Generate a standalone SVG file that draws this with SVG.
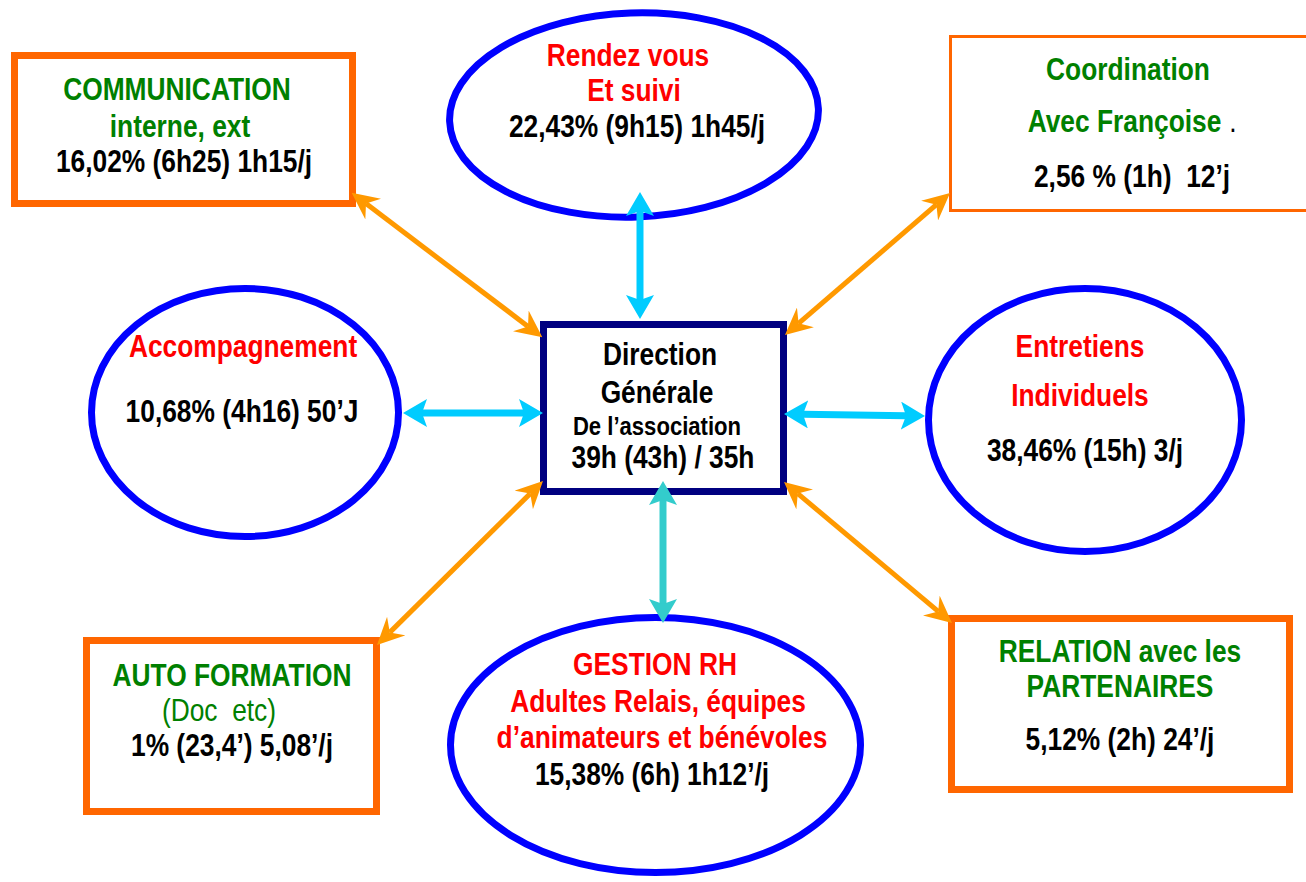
<svg xmlns="http://www.w3.org/2000/svg" width="1306" height="882" viewBox="0 0 1306 882">
  <style>
    /* condensed bold sans: each label squeezed about its own centre */
    text { font-family: "Liberation Sans", Arial, sans-serif; font-weight: bold; font-size: 31px; text-anchor: middle;
           transform-box: fill-box; transform-origin: center; transform: scaleX(0.85); }
    .green { fill: #008000; }
    .red { fill: #FF0000; }
    .black { fill: #000000; }
    .small { font-size: 26px; }
    .regular { font-weight: normal; }
    .oval { fill: #FFFFFF; stroke: #0000FF; stroke-width: 7; }
    .box { fill: #FFFFFF; stroke: #FF6600; stroke-width: 7; }
    .thin { stroke-width: 3; }
    .core { fill: #FFFFFF; stroke: #000080; stroke-width: 7; }
    .orange-link { stroke: #FF9900; stroke-width: 5; fill: none; marker-start: url(#head-orange); marker-end: url(#head-orange); }
    .cyan-link { stroke: #00CCFF; stroke-width: 7; fill: none; marker-start: url(#head-cyan); marker-end: url(#head-cyan); }
    .teal-link { stroke: #33CCCC; stroke-width: 7; fill: none; marker-start: url(#head-teal); marker-end: url(#head-teal); }
  </style>
  <defs>
    <!-- notched arrowheads; the line ends at the notch -->
    <marker id="head-orange" markerUnits="userSpaceOnUse" markerWidth="27" markerHeight="26" refX="9" refY="13" orient="auto-start-reverse">
      <path d="M27,13 L0,0 L9,13 L0,26 Z" fill="#FF9900"/>
    </marker>
    <marker id="head-cyan" markerUnits="userSpaceOnUse" markerWidth="24" markerHeight="28" refX="5" refY="14" orient="auto-start-reverse">
      <path d="M24,14 L0,0 L5,14 L0,28 Z" fill="#00CCFF"/>
    </marker>
    <marker id="head-teal" markerUnits="userSpaceOnUse" markerWidth="24" markerHeight="28" refX="5" refY="14" orient="auto-start-reverse">
      <path d="M24,14 L0,0 L5,14 L0,28 Z" fill="#33CCCC"/>
    </marker>
  </defs>

  <rect width="1306" height="882" fill="#FFFFFF"/>

  <g id="communication">
    <rect class="box" x="14.5" y="55.5" width="338" height="148"/>
    <text class="green" x="177" y="100">COMMUNICATION</text>
    <text class="green" x="180" y="137">interne, ext</text>
    <text class="black" x="184" y="172">16,02% (6h25) 1h15/j</text>
  </g>

  <g id="rendez-vous">
    <ellipse class="oval" cx="634" cy="115" rx="184.5" ry="102" transform="rotate(-2 634 115)"/>
    <text class="red" x="628" y="66">Rendez vous</text>
    <text class="red" x="634" y="101">Et suivi</text>
    <text class="black" x="637" y="137">22,43% (9h15) 1h45/j</text>
  </g>

  <g id="coordination">
    <rect class="box thin" x="950.5" y="36.5" width="370" height="174"/>
    <text class="green" x="1128" y="80">Coordination</text>
    <text class="green" x="1124.5" y="132">Avec Françoise</text>
    <text class="black regular" x="1233" y="132" font-size="20">.</text>
    <text class="black" x="1132" y="187" xml:space="preserve">2,56 % (1h)  12’j</text>
  </g>

  <g id="accompagnement">
    <ellipse class="oval" cx="245" cy="412.5" rx="153.5" ry="124"/>
    <text class="red" x="243" y="357">Accompagnement</text>
    <text class="black" x="242" y="422">10,68% (4h16) 50’J</text>
  </g>

  <g id="direction">
    <rect class="core" x="543.5" y="324.5" width="240" height="167"/>
    <text class="black" x="660" y="365">Direction</text>
    <text class="black" x="657" y="403">Générale</text>
    <text class="black small" x="657" y="435">De l’association</text>
    <text class="black" x="663" y="468">39h (43h) / 35h</text>
  </g>

  <g id="entretiens">
    <ellipse class="oval" cx="1085" cy="420" rx="156.5" ry="131.5"/>
    <text class="red" x="1080" y="357">Entretiens</text>
    <text class="red" x="1080" y="406">Individuels</text>
    <text class="black" x="1085" y="461">38,46% (15h) 3/j</text>
  </g>

  <g id="auto-formation">
    <rect class="box" x="86.5" y="640.5" width="290" height="171"/>
    <text class="green" x="232" y="686">AUTO FORMATION</text>
    <text class="green regular" x="219" y="721" xml:space="preserve">(Doc  etc)</text>
    <text class="black" x="232" y="756">1% (23,4’) 5,08’/j</text>
  </g>

  <g id="gestion-rh">
    <ellipse class="oval" cx="655.5" cy="745" rx="205" ry="127.5"/>
    <text class="red" x="655" y="675">GESTION RH</text>
    <text class="red" x="658" y="712">Adultes Relais, équipes</text>
    <text class="red" x="662" y="748">d’animateurs et bénévoles</text>
    <text class="black" x="652" y="785">15,38% (6h) 1h12’/j</text>
  </g>

  <g id="relation">
    <rect class="box" x="951.5" y="618.5" width="338" height="171"/>
    <text class="green" x="1120" y="662">RELATION avec les</text>
    <text class="green" x="1120" y="697">PARTENAIRES</text>
    <text class="black" x="1120" y="750">5,12% (2h) 24’/j</text>
  </g>

  <g id="connectors">
    <line class="orange-link" x1="366" y1="203.6" x2="528" y2="326.4"/>
    <line class="orange-link" x1="798.6" y1="323.3" x2="936.4" y2="204.7"/>
    <line class="orange-link" x1="389.8" y1="632.4" x2="530.2" y2="493.6"/>
    <line class="orange-link" x1="797.8" y1="493.6" x2="938.2" y2="611.4"/>
    <line class="cyan-link" x1="640" y1="211" x2="640" y2="300"/>
    <line class="cyan-link" x1="422" y1="413" x2="524" y2="413"/>
    <line class="cyan-link" x1="803" y1="414.3" x2="906" y2="415.7"/>
    <line class="teal-link" x1="663" y1="500" x2="663" y2="604"/>
  </g>
</svg>
